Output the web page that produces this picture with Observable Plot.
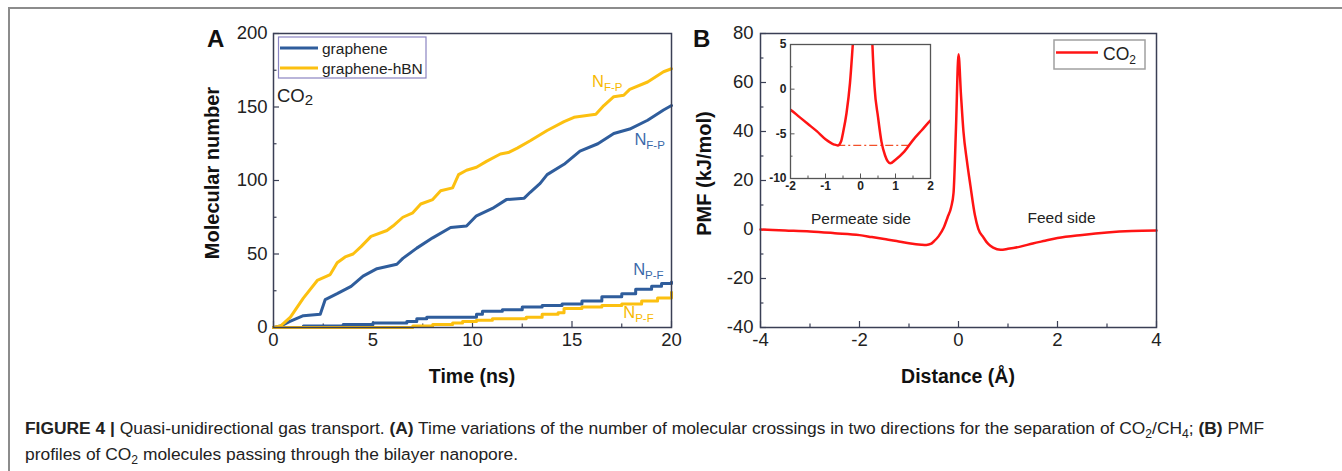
<!DOCTYPE html>
<html><head><meta charset="utf-8">
<script src="https://cdn.jsdelivr.net/npm/d3@7"></script>
<script src="https://cdn.jsdelivr.net/npm/@observablehq/plot@0.6"></script>
<style>
body{margin:0;background:#fff;}
#root{position:relative;width:1342px;height:471px;overflow:hidden;font-family:"Liberation Sans",Arial,sans-serif;background:#fff;}
.abs{position:absolute;}
#border{position:absolute;left:8px;top:7px;right:0;bottom:0;border-left:2px solid #8c8c8c;border-top:2px solid #8c8c8c;}
#caption{position:absolute;left:25px;top:416px;font-size:17.4px;line-height:24px;color:#222;white-space:nowrap;}
#caption sub{font-size:0.7em;vertical-align:baseline;position:relative;top:0.3em;}
</style></head><body><div id="root"><div id="border"></div></div>
<script>
// ---------- Panel A data: cumulative molecular crossings vs time (ns) ----------
const tGrapheneFP = [0,0.35,0.8,1.5,2.35,2.6,3.2,3.9,4.5,5.2,6.2,6.5,7.2,8.0,8.9,9.7,10.2,11.0,11.7,12.6,12.9,13.4,13.75,14.6,15.4,16.3,17.1,17.9,18.8,19.6,20];
const nGrapheneFP = [0,1,4,8,9,19,23,28,35,40,43,47,54,61,68,69,76,81,87,88,92,98,104,111,120,125,132,135,141,148,151];
const tHbnFP = [0,0.35,0.85,1.5,2.2,2.85,3.2,3.6,4.0,4.4,4.9,5.7,6.0,6.5,7.0,7.4,8.0,8.4,9.0,9.3,9.7,10.2,10.7,11.4,11.8,12.25,12.9,13.75,14.6,15.1,16.2,16.6,17.1,17.6,17.9,18.8,19.6,20];
const nHbnFP = [0,1,7,20,32,36,44,48,50,55,62,66,69,75,78,84,87,93,95,104,107,109,113,118,119,122,127,134,140,143,145,151,157,158,162,167,174,176];
const tGraphenePF = [0,1.5,3.5,5.0,6.7,7.2,7.7,10.2,10.5,11.5,12.5,13.5,14.5,15.5,16.5,17.5,18.2,19.0,19.5,20];
const nGraphenePF = [0,1,2,3,4,6,7,9,11,12,14,15,16,18,21,23,26,28,30,31];
const tHbnPF = [0,6.5,7.0,8.0,9.0,9.5,10.2,11.0,12.7,13.5,14.3,14.6,15.5,16.5,17.5,18.5,19.3,20];
const nHbnPF = [0,0,1,2,3,4,5,6,7,9,10,13,14,15,16,18,20,24];
const xTicksA = [0,5,10,15,20];
const xMinorA = [2.5,7.5,12.5,17.5];
const yTicksA = [0,50,100,150,200];
const yMinorA = [25,75,125,175];
const seriesNamesA = ["graphene","graphene-hBN"];

// ---------- Panel B data: PMF (kJ/mol) vs distance (Å) ----------
const distance = [-4,-3.5,-3,-2.5,-2,-1.75,-1.5,-1.25,-1,-0.75,-0.65,-0.55,-0.5,-0.4,-0.3,-0.22,-0.15,-0.1,-0.05,0,0.05,0.1,0.17,0.24,0.33,0.4,0.5,0.6,0.7,0.85,1.0,1.25,1.5,1.75,2,2.5,3,3.5,4];
const pmf = [0,-0.4,-0.8,-1.5,-2.3,-3.1,-3.9,-4.7,-5.6,-6.2,-6.3,-5.8,-4.9,-2.7,0.7,5,9,15,42,71.5,55,40,28,18,6,0.3,-3.1,-5.9,-7.4,-8.3,-7.9,-7.0,-5.7,-4.6,-3.5,-2.2,-1.2,-0.6,-0.4];
const xTicksB = [-4,-2,0,2,4];
const xMinorB = [-3,-1,1,3];
const yTicksB = [-40,-20,0,20,40,60,80];
const yMinorB = [-30,-10,10,30,50,70];
const insetXTicks = [-2,-1,0,1,2];
const insetXMinor = [-1.5,-0.5,0.5,1.5];
const insetYTicks = [-10,-5,0,5];
const insetYMinor = [-7.5,-2.5,2.5];
const refLevel = [-6.3];
const refSpan = [-0.65, 1.45];

// ---------- styling ----------
const BLUE = "#2f5d9c", GOLD = "#fcc010", RED = "#ff1414";
const BLUE_T = "#3a69aa", GOLD_T = "#f7b900";
const AX = "#3a3f55";
const fmt = d => String(d);
const zip = (xs, ys) => xs.map((x, i) => ({x, y: ys[i]}));
const root = document.getElementById("root");

function place(svg, left, top) {
  svg.classList.add("abs");
  svg.style.left = left + "px";
  svg.style.top = top + "px";
  root.appendChild(svg);
  return d3.select(svg);
}
function addText(sel, x, y, parts, attrs = {}) {
  const t = sel.append("text").attr("x", x).attr("y", y).attr("text-anchor", "start");
  for (const [k, v] of Object.entries(attrs)) t.attr(k, v);
  let shifted = 0;
  for (const p of parts) {
    const sp = t.append("tspan").text(p.t);
    if (p.sub) { sp.attr("dy", p.dy ?? 4).attr("font-size", p.size); shifted = p.dy ?? 4; }
    else if (shifted) { sp.attr("dy", -shifted); shifted = 0; }
    if (p.size && !p.sub) sp.attr("font-size", p.size);
  }
  return t;
}

// ================= Panel A =================
const wA = 680, hA = 400, mlA = 273, mrA = 9, mtA = 33, mbA = 73;
const innerWA = wA - mlA - mrA, innerHA = hA - mtA - mbA;
const plotA = Plot.plot({
  width: wA, height: hA, marginLeft: mlA, marginRight: mrA, marginTop: mtA, marginBottom: mbA,
  x: {domain: [0, 20]}, y: {domain: [0, 200]},
  style: {background: "transparent", fontFamily: "Liberation Sans, Arial, sans-serif", fontSize: "18.5px", color: "#222", overflow: "visible"},
  marks: [
    Plot.tickX(xTicksA, {x: d => d, insetTop: innerHA - 6, stroke: AX, strokeWidth: 1.2}),
    Plot.tickX(xMinorA, {x: d => d, insetTop: innerHA - 3.5, stroke: AX, strokeWidth: 1.2}),
    Plot.tickY(yTicksA, {y: d => d, insetRight: innerWA - 6, stroke: AX, strokeWidth: 1.2}),
    Plot.tickY(yMinorA, {y: d => d, insetRight: innerWA - 3.5, stroke: AX, strokeWidth: 1.2}),
    Plot.axisX(xTicksA, {tickSize: 0, tickPadding: 5, label: null, tickFormat: fmt}),
    Plot.axisY(yTicksA, {tickSize: 0, tickPadding: 6, label: null, tickFormat: fmt}),
    Plot.line(zip(tGraphenePF, nGraphenePF), {x: "x", y: "y", curve: "step-after", stroke: BLUE, strokeWidth: 3}),
    Plot.line(zip(tGrapheneFP, nGrapheneFP), {x: "x", y: "y", stroke: BLUE, strokeWidth: 3}),
    Plot.line(zip(tHbnPF, nHbnPF), {x: "x", y: "y", curve: "step-after", stroke: GOLD, strokeWidth: 3}),
    Plot.line(zip(tHbnFP, nHbnFP), {x: "x", y: "y", stroke: GOLD, strokeWidth: 3}),
    Plot.frame({stroke: AX, strokeWidth: 1.5})
  ]
});
const sA = place(plotA, 0, 0);
const xA = plotA.scale("x"), yA = plotA.scale("y");
// legend A
const legA = sA.append("g");
legA.append("rect").attr("x", 278.5).attr("y", 37).attr("width", 147.5).attr("height", 41)
  .attr("fill", "white").attr("stroke", "#8a84c2").attr("stroke-width", 1.2);
[[BLUE, seriesNamesA[0], 48], [GOLD, seriesNamesA[1], 68]].forEach(([c, name, yy]) => {
  legA.append("line").attr("x1", 280).attr("x2", 318).attr("y1", yy).attr("y2", yy).attr("stroke", c).attr("stroke-width", 3);
  legA.append("text").attr("x", 322).attr("y", yy + 5.5).attr("text-anchor", "start").attr("font-size", 15.5).attr("fill", "#222").text(name);
});
// annotations A
addText(sA, xA.apply(0.2), yA.apply(153.3), [{t: "CO"}, {t: "2", sub: true, size: 15, dy: 3}], {"font-size": 18.5, fill: "#222"});
addText(sA, xA.apply(16.03), yA.apply(163.5), [{t: "N"}, {t: "F-P", sub: true, size: 11.5, dy: 4}], {"font-size": 16.5, fill: GOLD_T});
addText(sA, xA.apply(18.16), yA.apply(123.8), [{t: "N"}, {t: "F-P", sub: true, size: 11.5, dy: 4}], {"font-size": 16.5, fill: BLUE_T});
addText(sA, xA.apply(18.1), yA.apply(35.4), [{t: "N"}, {t: "P-F", sub: true, size: 11.5, dy: 4}], {"font-size": 16.5, fill: BLUE_T});
addText(sA, xA.apply(17.6), yA.apply(6.3), [{t: "N"}, {t: "P-F", sub: true, size: 11.5, dy: 4}], {"font-size": 16.5, fill: GOLD_T});
// titles A
sA.append("text").attr("x", 207).attr("y", 47).attr("text-anchor", "start").attr("font-size", 24).attr("font-weight", "bold").attr("fill", "#111").text("A");
sA.append("text").attr("transform", `translate(212,${mtA + innerHA / 2 - 7}) rotate(-90)`).attr("text-anchor", "middle")
  .attr("dominant-baseline", "central").attr("font-size", 20).attr("font-weight", "bold").attr("fill", "#111").text("Molecular number");
sA.append("text").attr("x", mlA + innerWA / 2).attr("y", 376).attr("text-anchor", "middle").attr("dominant-baseline", "central")
  .attr("font-size", 19.5).attr("font-weight", "bold").attr("fill", "#111").text("Time (ns)");

// ================= Panel B =================
const wB = 662, hB = 400, mlB = 80, mrB = 186, mtB = 33, mbB = 73;
const innerWB = wB - mlB - mrB, innerHB = hB - mtB - mbB;
const pmfData = zip(distance, pmf);
const plotB = Plot.plot({
  width: wB, height: hB, marginLeft: mlB, marginRight: mrB, marginTop: mtB, marginBottom: mbB,
  x: {domain: [-4, 4]}, y: {domain: [-40, 80]},
  style: {background: "transparent", fontFamily: "Liberation Sans, Arial, sans-serif", fontSize: "18.5px", color: "#222", overflow: "visible"},
  marks: [
    Plot.tickX(xTicksB, {x: d => d, insetTop: innerHB - 6, stroke: AX, strokeWidth: 1.2}),
    Plot.tickX(xMinorB, {x: d => d, insetTop: innerHB - 3.5, stroke: AX, strokeWidth: 1.2}),
    Plot.tickY(yTicksB, {y: d => d, insetRight: innerWB - 6, stroke: AX, strokeWidth: 1.2}),
    Plot.tickY(yMinorB, {y: d => d, insetRight: innerWB - 3.5, stroke: AX, strokeWidth: 1.2}),
    Plot.axisX(xTicksB, {tickSize: 0, tickPadding: 5, label: null, tickFormat: fmt}),
    Plot.axisY(yTicksB, {tickSize: 0, tickPadding: 7, label: null, tickFormat: fmt}),
    Plot.line(pmfData, {x: "x", y: "y", curve: "monotone-x", stroke: RED, strokeWidth: 2.5}),
    Plot.text(["Permeate side"], {x: -1.97, y: 4.1, fontSize: 15.5, fill: "#222"}),
    Plot.text(["Feed side"], {x: 2.08, y: 4.5, fontSize: 15.5, fill: "#222"}),
    Plot.frame({stroke: AX, strokeWidth: 1.5})
  ]
});
const sB = place(plotB, 680, 0);
// legend B
const legB = sB.append("g");
legB.append("rect").attr("x", 374).attr("y", 40).attr("width", 91).attr("height", 29)
  .attr("fill", "white").attr("stroke", "#a0a0a0").attr("stroke-width", 1.5);
legB.append("line").attr("x1", 376).attr("x2", 418).attr("y1", 52.5).attr("y2", 52.5).attr("stroke", RED).attr("stroke-width", 2.5);
addText(legB, 423, 59.5, [{t: "CO"}, {t: "2", sub: true, size: 12, dy: 4.5}], {"font-size": 17.5, fill: "#222"});
// titles B
sB.append("text").attr("x", 13).attr("y", 47).attr("text-anchor", "start").attr("font-size", 24).attr("font-weight", "bold").attr("fill", "#111").text("B");
sB.append("text").attr("transform", `translate(24,${mtB + innerHB / 2 - 6.5}) rotate(-90)`).attr("text-anchor", "middle")
  .attr("dominant-baseline", "central").attr("font-size", 20).attr("font-weight", "bold").attr("fill", "#111").text("PMF (kJ/mol)");
sB.append("text").attr("x", mlB + innerWB / 2).attr("y", 376).attr("text-anchor", "middle").attr("dominant-baseline", "central")
  .attr("font-size", 19.5).attr("font-weight", "bold").attr("fill", "#111").text("Distance (Å)");

// ================= Inset =================
const wI = 180, hI = 162, mlI = 30, mrI = 10, mtI = 6, mbI = 22;
const innerWI = wI - mlI - mrI, innerHI = hI - mtI - mbI;
const plotI = Plot.plot({
  width: wI, height: hI, marginLeft: mlI, marginRight: mrI, marginTop: mtI, marginBottom: mbI,
  x: {domain: [-2, 2]}, y: {domain: [-10, 5]},
  style: {background: "transparent", fontFamily: "Liberation Sans, Arial, sans-serif", fontSize: "12px", fontWeight: "bold", color: "#222", overflow: "visible"},
  marks: [
    Plot.tickX(insetXTicks, {x: d => d, insetTop: innerHI - 4.5, stroke: "#555"}),
    Plot.tickX(insetXMinor, {x: d => d, insetTop: innerHI - 2.5, stroke: "#555"}),
    Plot.tickY(insetYTicks, {y: d => d, insetRight: innerWI - 4.5, stroke: "#555"}),
    Plot.tickY(insetYMinor, {y: d => d, insetRight: innerWI - 2.5, stroke: "#555"}),
    Plot.axisX(insetXTicks, {tickSize: 0, tickPadding: 3, label: null, tickFormat: fmt}),
    Plot.axisY(insetYTicks, {tickSize: 0, tickPadding: 4, label: null, tickFormat: fmt}),
    Plot.ruleY(refLevel, {x1: refSpan[0], x2: refSpan[1], stroke: "#f2502a", strokeWidth: 1.3, strokeDasharray: "8,3,2,3"}),
    Plot.line(pmfData, {x: "x", y: "y", curve: "monotone-x", stroke: RED, strokeWidth: 2.5, clip: true}),
    Plot.frame({stroke: "#555", strokeWidth: 1.3})
  ]
});
place(plotI, 760, 38);

// ================= Caption =================
const cap = document.createElement("div");
cap.id = "caption";
cap.innerHTML = '<b>FIGURE 4 |</b> Quasi-unidirectional gas transport. <b>(A)</b> Time variations of the number of molecular crossings in two directions for the separation of CO<sub>2</sub>/CH<sub>4</sub>; <b>(B)</b> PMF<br>profiles of CO<sub>2</sub> molecules passing through the bilayer nanopore.';
root.appendChild(cap);
</script>
</body></html>
